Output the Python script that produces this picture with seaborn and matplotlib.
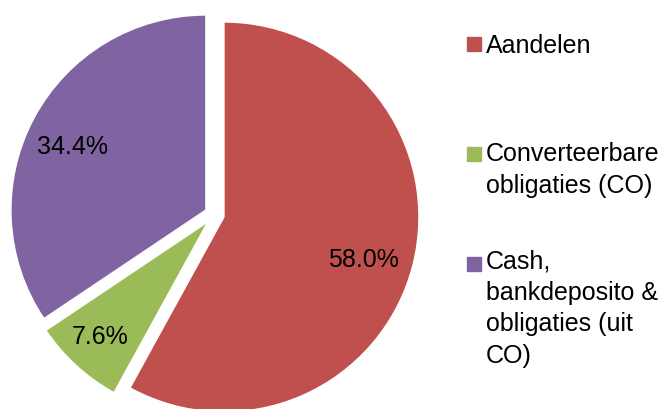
import matplotlib
matplotlib.use("Agg")
import matplotlib.pyplot as plt
import seaborn as sns
import numpy as np
from matplotlib.patches import Rectangle

# Data
categories = ["Aandelen", "Converteerbare\nobligaties (CO)", "Cash,\nbankdeposito &\nobligaties (uit\nCO)"]
shares = [58.0, 7.6, 34.4]
colors = ["#C0504D", "#9BBB59", "#8064A2"]

sns.set_theme(style="white")
plt.rcParams['font.family'] = ['Liberation Sans', 'DejaVu Sans']

fig = plt.figure(figsize=(6.67, 4.09), dpi=100)
# square axes so one data unit = 195 px, pie centre near (215, 215)
ax = fig.add_axes([0.0, -0.0491, 0.6432, 1.0489])

wedges, texts, pcts = ax.pie(shares, colors=sns.color_palette(colors), startangle=90,
                             counterclock=False, explode=[0.05] * len(shares),
                             autopct='%1.1f%%', pctdistance=0.76,
                             textprops={'fontsize': 18, 'color': 'black'})
ax.set_xlim(-1.1, 1.1)
ax.set_ylim(-1.1, 1.1)
ax.set_aspect('equal')
ax.axis('off')

# nudge the percentage labels the way the original places them
label_r = [0.75, 0.81, 0.755]
label_rot = [-2.6, -0.7, 2.6]
for w, t, r, rot in zip(wedges, pcts, label_r, label_rot):
    ang = np.deg2rad((w.theta1 + w.theta2) / 2 + rot)
    cx, cy = w.center
    t.set_position((cx + r * np.cos(ang), cy + r * np.sin(ang)))

# Legend drawn by hand: square + wrapped label, first line aligned to square
legend_y = [53, 163, 273]  # baselines of first lines in px from top
line_px = 30
for lab, col, yb in zip(categories, colors, legend_y):
    n = lab.count("\n")
    fig.patches.append(Rectangle((467 / 667, 1 - (yb - 2) / 409), 14 / 667, 14 / 409,
                                 transform=fig.transFigure, color=col))
    fig.text(486 / 667, 1 - (yb + n * line_px) / 409, lab, fontsize=18, va='baseline',
             ha='left', color='black', linespacing=1.4)

fig.savefig("out.png", dpi=100)
